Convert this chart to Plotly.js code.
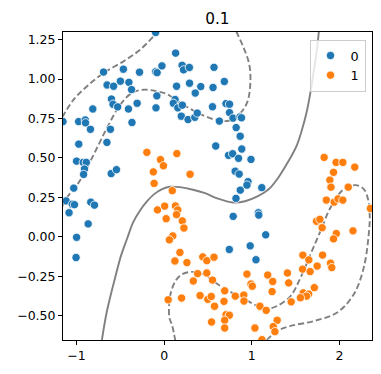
<!DOCTYPE html>
<html>
<head>
<meta charset="utf-8">
<script src="https://cdn.plot.ly/plotly-3.0.1.min.js"></script>
<style>html,body{margin:0;padding:0;background:#fff}#chart{width:381px;height:374px}</style>
</head>
<body>
<div id="chart"></div>
<script>
// class 0 points
const blueX = [-0.097,-0.691,-0.465,-0.281,-0.097,-0.080,-0.025,-0.651,-0.577,-0.499,-0.402,-0.372,-0.601,-0.583,-0.530,-0.407,-0.308,-0.814,-0.083,-0.093,-1.154,-0.976,-0.900,-0.897,-0.841,-0.367,-0.613,-0.653,-0.974,-0.999,-0.923,-0.888,-0.909,-0.919,-0.604,-0.544,-1.031,-1.118,-1.048,-1.023,-1.085,-0.837,-0.795,-0.867,-0.999,-1.005,0.131,0.205,0.222,0.288,0.569,0.142,0.290,0.355,0.418,0.558,0.687,0.125,0.105,0.156,0.208,0.196,0.273,0.350,0.378,0.552,0.630,0.706,0.746,0.746,0.786,0.866,0.883,0.822,0.868,0.589,0.735,0.782,0.849,0.886,0.991,0.811,0.856,0.957,0.945,0.869,1.114,0.820,0.788,1.076,1.080,1.159,0.744,0.982,1.048];
const blueY = [1.295,1.044,1.062,1.043,1.046,1.040,1.083,0.962,0.954,0.986,0.979,0.933,0.873,0.840,0.823,0.810,0.846,0.810,0.893,0.817,0.730,0.730,0.740,0.722,0.681,0.724,0.681,0.598,0.587,0.479,0.471,0.471,0.429,0.395,0.400,0.425,0.308,0.227,0.206,0.203,0.152,0.219,0.200,0.081,-0.004,-0.132,1.164,1.087,1.058,1.073,1.074,0.954,0.973,0.911,0.952,0.946,0.984,0.870,0.846,0.817,0.834,0.764,0.743,0.757,0.784,0.824,0.733,0.844,0.840,0.787,0.752,0.760,0.754,0.692,0.637,0.575,0.516,0.526,0.497,0.556,0.490,0.415,0.397,0.349,0.327,0.295,0.311,0.243,0.129,0.152,0.137,0.012,-0.081,-0.058,-0.146];
// class 1 points
const orangeX = [-0.197,-0.042,-0.008,-0.123,-0.114,0.145,0.296,0.093,-0.076,0.006,0.129,0.156,0.141,0.023,0.207,0.226,0.099,0.060,0.180,0.123,0.260,0.441,0.487,0.569,0.382,0.487,0.333,0.552,0.046,0.199,0.410,0.498,0.538,0.575,0.691,0.683,0.812,0.909,0.911,0.706,0.744,0.691,0.691,0.541,0.945,0.991,1.006,1.182,1.093,1.036,1.116,1.826,1.962,2.039,2.175,1.933,1.891,1.904,2.101,1.851,1.940,1.984,2.039,2.354,1.739,1.777,1.803,1.965,1.933,2.155,1.583,1.651,1.808,1.746,1.580,1.666,1.899,1.913,1.407,1.239,1.421,1.232,1.714,1.587,1.649,1.625,1.555,1.450,1.165,1.290,1.245,1.264];
const orangeY = [0.535,0.489,0.450,0.411,0.338,0.527,0.396,0.292,0.170,0.194,0.195,0.170,0.140,0.114,0.100,0.055,0.005,-0.020,-0.100,-0.154,-0.164,-0.128,-0.152,-0.130,-0.234,-0.230,-0.281,-0.275,-0.400,-0.389,-0.373,-0.397,-0.379,-0.441,-0.343,-0.410,-0.377,-0.370,-0.408,-0.495,-0.498,-0.530,-0.579,-0.541,-0.237,-0.300,-0.314,-0.243,-0.441,-0.579,-0.653,0.503,0.471,0.471,0.441,0.408,0.359,0.314,0.314,0.232,0.219,0.240,0.232,0.179,0.098,0.110,0.057,0.020,-0.014,0.037,-0.117,-0.147,-0.117,-0.186,-0.206,-0.221,-0.168,-0.196,-0.230,-0.284,-0.293,-0.348,-0.323,-0.356,-0.364,-0.377,-0.387,-0.413,-0.467,-0.530,-0.570,-0.602];
// decision boundary (level 0)
const solidX = [-0.710,-0.653,-0.558,-0.490,-0.421,-0.353,-0.273,-0.194,-0.114,-0.023,0.068,0.182,0.330,0.467,0.615,0.786,0.923,1.071,1.196,1.298,1.378,1.446,1.515,1.572,1.629,1.674,1.708,1.743,1.765];
const solidY = [-0.655,-0.473,-0.257,-0.117,-0.010,0.092,0.168,0.225,0.270,0.302,0.317,0.314,0.298,0.276,0.241,0.217,0.225,0.257,0.302,0.371,0.441,0.505,0.581,0.676,0.797,0.930,1.051,1.184,1.298];
// margins (levels -1 / +1)
const dashAX = [-1.165,-1.033,-0.880,-0.691,-0.464,-0.273,-0.103,-0.068];
const dashAY = [0.755,0.869,0.954,1.038,1.112,1.186,1.281,1.300];
const dashBX = [-1.162,-1.108,-1.014,-0.957,-0.805,-0.653,-0.501,-0.368,-0.236,-0.083,0.031,0.129,0.281,0.433,0.584,0.737,0.851,0.945,0.983,0.972,0.908,0.831,0.820];
const dashBY = [0.194,0.249,0.312,0.359,0.519,0.689,0.837,0.911,0.932,0.922,0.905,0.869,0.816,0.773,0.742,0.735,0.773,0.848,0.964,1.091,1.197,1.292,1.305];
const dashCX = [0.129,0.091,0.060,0.057,0.072,0.129,0.205,0.319,0.433,0.524,0.584,0.737,0.888,1.040,1.170,1.290,1.443,1.557,1.671,1.785,1.899,2.050,2.183,2.278,2.329,2.346,2.335,2.278,2.164,1.974,1.708,1.443,1.290,1.177,1.150];
const dashCY = [-0.663,-0.562,-0.513,-0.435,-0.365,-0.281,-0.238,-0.223,-0.234,-0.265,-0.291,-0.344,-0.386,-0.433,-0.457,-0.439,-0.376,-0.259,-0.111,0.037,0.185,0.302,0.327,0.302,0.232,0.137,0.016,-0.196,-0.365,-0.481,-0.535,-0.566,-0.598,-0.651,-0.663];
const xTicks = [-1, 0, 1, 2];
const yTicks = [-0.5, -0.25, 0, 0.25, 0.5, 0.75, 1.0, 1.25];
const seriesNames = ['0', '1'];

const grey = '#808080';
function line(x, y, dash) {
  return {x: x, y: y, mode: 'lines', type: 'scatter', showlegend: false, hoverinfo: 'skip',
    line: {color: grey, width: 1.9, dash: dash, shape: 'spline', smoothing: 1}};
}
const traces = [
  line(solidX, solidY, 'solid'),
  line(dashAX, dashAY, '6px,3px'),
  line(dashBX, dashBY, '6px,3px'),
  line(dashCX, dashCY, '6px,3px'),
  {x: blueX, y: blueY, mode: 'markers', type: 'scatter', name: seriesNames[0],
   marker: {color: '#1f77b4', size: 8.3, line: {color: '#ffffff', width: 0.8}}},
  {x: orangeX, y: orangeY, mode: 'markers', type: 'scatter', name: seriesNames[1],
   marker: {color: '#ff7f0e', size: 8.3, line: {color: '#ffffff', width: 0.8}}}
];
const axisCommon = {showline: true, mirror: true, linecolor: '#000', linewidth: 1,
  ticks: 'outside', ticklen: 4, tickwidth: 1, tickcolor: '#000', showgrid: false, zeroline: false,
  tickfont: {family: 'DejaVu Sans', size: 12.5, color: '#000'}};
const layout = {
  width: 381, height: 374,
  margin: {l: 62.7, r: 8.7, t: 32, b: 34.3, pad: 0},
  paper_bgcolor: '#fff', plot_bgcolor: '#fff',
  font: {family: 'DejaVu Sans', color: '#000'},
  title: {text: '0.1', x: 0.5705, xref: 'container', xanchor: 'center', y: 1 - 18.5/374, yref: 'container', yanchor: 'middle',
    font: {family: 'DejaVu Sans', size: 15.3, color: '#000'}},
  xaxis: Object.assign({}, axisCommon, {range: [-1.154, 2.372], tickvals: xTicks, ticktext: ['−1','0','1','2']}),
  yaxis: Object.assign({}, axisCommon, {range: [-0.655, 1.298], tickvals: yTicks, tickformat: '.2f'}),
  legend: {x: 0.979, xanchor: 'right', y: 0.975, yanchor: 'top', bgcolor: 'rgba(255,255,255,0.8)',
    bordercolor: '#cccccc', borderwidth: 1, font: {family: 'DejaVu Sans', size: 12.8, color: '#000'},
    itemwidth: 30, tracegroupgap: 0},
  showlegend: true
};
Plotly.newPlot('chart', traces, layout, {displayModeBar: false, staticPlot: true});
</script>
</body>
</html>
